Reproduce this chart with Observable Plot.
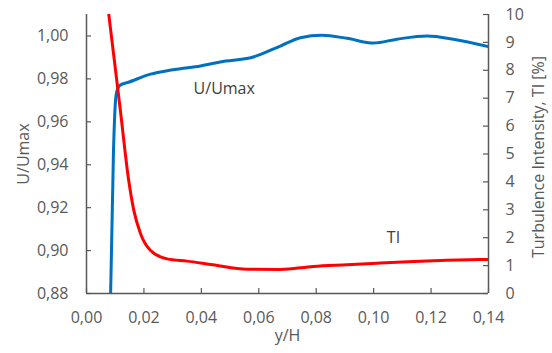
<!DOCTYPE html>
<html><head><meta charset="utf-8">
<script src="https://cdn.jsdelivr.net/npm/d3@7"></script>
<script src="https://cdn.jsdelivr.net/npm/@observablehq/plot@0.6"></script>
<style>body{margin:0;background:#fff}</style>
</head><body><div id="chart"></div>
<script>
// U/Umax profile (left axis)
const uX   = [0.0084, 0.0094, 0.0101, 0.0106, 0.0118, 0.0143, 0.0223, 0.0281, 0.0327, 0.0397, 0.0466, 0.0581, 0.0675, 0.0745, 0.0820, 0.0907, 0.1000, 0.1081, 0.1186, 0.1278, 0.1400];
const uVal = [0.880, 0.9465, 0.9698, 0.9744, 0.9772, 0.9783, 0.9822, 0.9838, 0.9847, 0.9860, 0.9879, 0.9902, 0.9953, 0.9992, 1.0003, 0.9989, 0.9967, 0.9985, 1.0000, 0.9985, 0.9950];
// Turbulence intensity TI [%] (right axis)
const tiX   = [0.0077, 0.0097, 0.0118, 0.0147, 0.0165, 0.0188, 0.0223, 0.0281, 0.0350, 0.0440, 0.0559, 0.0675, 0.0790, 0.0907, 0.1023, 0.1139, 0.1255, 0.1400];
const tiVal = [10.05, 8.35, 6.56, 4.05, 2.97, 2.15, 1.54, 1.24, 1.16, 1.03, 0.87, 0.86, 0.97, 1.03, 1.09, 1.15, 1.19, 1.22];

const xTicks  = [0, 0.02, 0.04, 0.06, 0.08, 0.10, 0.12, 0.14];
const uTicks  = [0.88, 0.90, 0.92, 0.94, 0.96, 0.98, 1.00];
const tiTicks = [0, 1, 2, 3, 4, 5, 6, 7, 8, 9, 10];
const uDomain = [0.88, 1.01];
const tiDomain = [0, 10];
const xDomain = [0, 0.14];

const xTitle = "y/H";
const uTitle = "U/Umax";
const tiTitle = "Turbulence Intensity, TI [%]";
const uNote = {text: "U/Umax", x: 0.0373, u: 0.9753};
const tiNote = {text: "TI", x: 0.1069, ti: 2.0};

const tiToU = t => uDomain[0] + (t - tiDomain[0]) / (tiDomain[1] - tiDomain[0]) * (uDomain[1] - uDomain[0]);
const uToTi = u => tiDomain[0] + (u - uDomain[0]) / (uDomain[1] - uDomain[0]) * (tiDomain[1] - tiDomain[0]);
const comma = d => d3.format(".2f")(d).replace(".", ",");

const uData = uX.map((x, i) => ({x, y: uVal[i]}));
const tiData = tiX.map((x, i) => ({x, y: tiToU(tiVal[i])}));

const W = 552, H = 353, ML = 86, MR = 64, MT = 14, MB = 60;
const axisColor = "#595959";

const chart = Plot.plot({
  width: W, height: H,
  marginLeft: ML, marginRight: MR, marginTop: MT, marginBottom: MB,
  style: {fontFamily: "'Open Sans', sans-serif", fontSize: "16px", color: axisColor, background: "#fff"},
  x: {domain: xDomain},
  y: {domain: uDomain},
  marks: [
    Plot.line(uData, {x: "x", y: "y", stroke: "#0070c0", strokeWidth: 3, curve: "monotone-x", clip: true}),
    Plot.line(tiData, {x: "x", y: "y", stroke: "#ff0000", strokeWidth: 3, curve: "monotone-x", clip: true}),
    // axis lines
    Plot.ruleX([xDomain[0]], {stroke: axisColor, strokeWidth: 1.5}),
    Plot.ruleX([xDomain[1]], {stroke: axisColor, strokeWidth: 1.5}),
    Plot.ruleY([uDomain[0]], {stroke: axisColor, strokeWidth: 1.5}),
    // inward tick marks
    Plot.tickX(xTicks, {x: d => d, stroke: axisColor, strokeWidth: 1.2, insetTop: (H - MT - MB) - 5}),
    Plot.tickY(uTicks, {y: d => d, stroke: axisColor, strokeWidth: 1.2, insetRight: (W - ML - MR) - 5}),
    Plot.tickY(tiTicks.map(tiToU), {y: d => d, stroke: axisColor, strokeWidth: 1.2, insetLeft: (W - ML - MR) - 5}),
    // tick labels
    Plot.axisX({ticks: xTicks, tickSize: 0, tickPadding: 18, tickFormat: comma, label: null}),
    Plot.axisY({anchor: "left", ticks: uTicks, tickSize: 0, tickPadding: 18, tickFormat: comma, label: null}),
    Plot.axisY({anchor: "right", ticks: tiTicks.map(tiToU), tickSize: 0, tickPadding: 17, tickFormat: d => String(Math.round(uToTi(d))), label: null}),
    // axis titles
    Plot.text([xTitle], {text: d => d, frameAnchor: "bottom", dy: 47, textAnchor: "middle", fill: axisColor}),
    Plot.text([uTitle], {text: d => d, frameAnchor: "left", dx: -63, rotate: -90, textAnchor: "middle", fill: axisColor}),
    Plot.text([tiTitle], {text: d => d, frameAnchor: "right", dx: 50, dy: 3, rotate: -90, textAnchor: "middle", fill: axisColor}),
    // annotations
    Plot.text([uNote], {x: "x", y: "u", text: "text", textAnchor: "start", fill: "#404040"}),
    Plot.text([tiNote], {x: "x", y: d => tiToU(d.ti), text: "text", textAnchor: "middle", fill: "#404040"})
  ]
});
document.getElementById("chart").appendChild(chart);
</script>
</body></html>
